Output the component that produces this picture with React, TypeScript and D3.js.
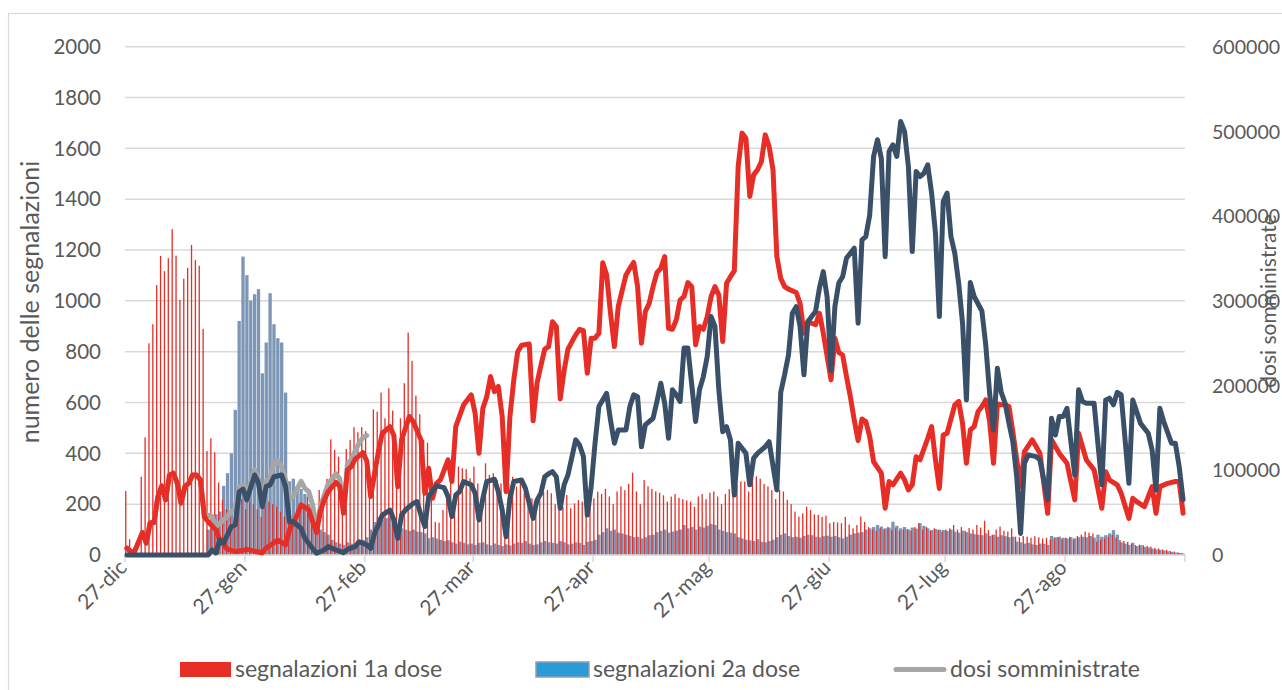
import React from "react";
import * as d3 from "d3";

// ---------- DATA ----------
const START = new Date(2020, 11, 27);
const TOTAL_DAYS = 274;

const tickLabels = ["27-dic", "27-gen", "27-feb", "27-mar", "27-apr", "27-mag", "27-giu", "27-lug", "27-ago"];
const tickDates = [
  new Date(2020, 11, 27), new Date(2021, 0, 27), new Date(2021, 1, 27), new Date(2021, 2, 27),
  new Date(2021, 3, 27), new Date(2021, 4, 27), new Date(2021, 5, 27), new Date(2021, 6, 27),
  new Date(2021, 7, 27), new Date(2021, 8, 27),
];
const leftTicks = [0, 200, 400, 600, 800, 1000, 1200, 1400, 1600, 1800, 2000];
const rightTicks = [0, 100000, 200000, 300000, 400000, 500000, 600000];

const legendLabels = ["segnalazioni 1a dose", "segnalazioni 2a dose", "dosi somministrate"];

// daily reports, 1st dose (left axis), one value per day from 27-dic
const segnalazioni1a: number[] = [
  252, 62, 5, 5, 308, 463, 833, 908, 1062, 1177, 1117, 1168, 1282, 1178, 1004, 1087, 1130, 1220, 1161, 1138, 890, 409, 459, 404, 285, 217,
  180, 150, 130, 200, 220, 180, 210, 200, 180, 150, 190, 210, 200, 190, 170, 150, 140, 120, 150, 170,
  200, 230, 180, 130, 256, 240, 300, 455, 413, 387, 177, 417, 453, 503, 483, 503, 487,
  250, 573, 564, 639, 538, 656, 568, 440, 538, 676,
  875, 764, 627, 554, 453, 442, 276, 130, 127, 177,
  256, 335, 230, 348, 341, 338, 302, 348, 282, 223,
  361, 315, 322, 295, 282, 151, 282, 308, 269, 295,
  243, 230, 223, 216, 243, 249, 256, 243, 200, 223,
  190, 236, 184, 203, 216, 210, 177, 203, 223, 249,
  240, 260, 230, 200, 250, 270, 255, 280, 324, 250,
  200, 295, 270, 260, 250, 245, 235, 210, 230, 240,
  225, 220, 215, 210, 190, 230, 240, 220, 245, 250,
  230, 200, 240, 259, 260, 275, 290, 289, 250, 324,
  310, 300, 280, 270, 255, 220, 256, 250, 217, 200, 171,
  151, 164, 190, 177, 160, 158, 150, 155, 125, 130,
  128, 125, 150, 120, 105, 118, 151, 130, 110, 100,
  95, 105, 100, 110, 98, 105, 95, 100, 102, 96,
  110, 125, 100, 110, 95, 105, 98, 92, 100, 105,
  118, 100, 110, 95, 106, 100, 118, 108, 135, 98,
  79, 100, 112, 95, 92, 105, 72, 70, 75, 72,
  68, 74, 70, 65, 68, 60, 65, 70, 62, 68,
  72, 60, 75, 80, 92, 88, 85, 52, 60, 65,
  72, 79, 68, 59, 55, 52, 45, 39, 40, 39,
  36, 33, 28, 26, 22, 20, 16, 14, 10, 8,
];

// daily reports, 2nd dose (left axis)
const segnalazioni2a: number[] = [
  0, 0, 0, 0, 0, 0, 0, 0, 0, 0, 0, 0, 0, 0, 0, 0, 0, 0, 0, 0, 0,
  100, 130, 160, 171, 272, 322, 400, 571, 921, 1174, 1101, 1001, 1026, 1046, 715, 836, 1030, 908, 853, 836, 639,
  290, 300, 270, 260, 240, 200, 150, 110, 100, 90, 80, 60, 50, 45, 40, 50, 45, 40, 45, 60, 70,
  100, 130, 150, 140, 145, 150, 110, 90,
  105, 100, 95, 100, 92, 90, 85,
  66, 70, 65, 60, 55, 58, 50, 45, 53, 48, 42,
  45, 40, 48, 50, 42, 38, 45, 40, 35, 42, 38, 45,
  50, 48, 55, 45, 40, 42, 50, 55, 50, 48, 45, 55, 50, 42, 45, 50, 48, 40, 52, 55, 60,
  80, 90, 105, 95, 100, 88, 85,
  80, 75, 70, 72, 65, 70, 78, 80,
  90, 95, 100, 88, 92, 96, 100, 118,
  105, 110, 100, 112, 108, 115, 122, 118,
  100, 95, 90, 88, 85,
  70, 65, 60, 58, 55, 62, 52, 50, 55,
  60, 70, 80, 85, 75, 70, 72, 68,
  75, 80, 78, 72, 70, 74, 76, 72, 75, 70, 65, 72, 80, 85, 88, 90,
  100, 105, 110, 118, 112, 105, 108, 131, 115, 105, 110, 100, 108, 104, 125, 115, 105, 98, 102, 100,
  98, 95, 100, 92, 88, 96, 90, 85, 82, 80, 78, 85, 75, 80, 72, 78, 74, 70, 72,
  53, 50, 45, 48, 42, 40, 45, 44, 40,
  75, 70, 72, 68, 65, 70, 66, 70, 72,
  70, 75, 68, 80, 72, 78, 85, 98, 80,
  50, 45, 40, 48, 35, 38, 32, 30,
  25, 22, 20, 18, 15, 12, 10, 8, 5,
];

// doses administered, 1st dose (right axis): [day index, doses]
const dosi1aDose: [number, number][] = [
  [0, 8100], [1, 3900], [2, 4500], [4, 26400], [5, 14100], [6, 38100], [7, 38100], [8, 69000], [9, 81600], [10, 65100],
  [11, 94500], [12, 96600], [13, 84900], [14, 61200], [15, 81000], [16, 84900], [17, 94500], [18, 94500], [19, 88500], [20, 45300],
  [21, 39300], [23, 29400], [24, 17700], [26, 6600], [28, 4200], [30, 5400], [31, 6600], [33, 4500], [35, 2700], [36, 8100],
  [38, 14400], [39, 17700], [41, 12000], [42, 29400], [44, 47100], [45, 59100], [47, 53400], [48, 39300], [49, 26400], [50, 51300],
  [51, 65100], [52, 74700], [54, 85800], [55, 81000], [56, 49200], [57, 100500], [58, 104400], [59, 113100], [61, 120900], [62, 111000],
  [63, 69000], [65, 122100], [66, 143700], [68, 151500], [69, 141000], [70, 80700], [71, 135900], [72, 149700], [73, 163500], [74, 157500],
  [76, 135900], [77, 72900], [78, 102300], [79, 66900], [80, 84600], [81, 88500], [83, 112200], [84, 86700], [85, 151500], [87, 177000],
  [89, 189000], [90, 167400], [91, 120000], [92, 173100], [93, 186900], [94, 210600], [95, 192900], [96, 198900], [97, 163500], [98, 74700],
  [99, 163500], [100, 206700], [101, 240000], [102, 247500], [104, 249000], [105, 158400], [106, 202800], [107, 223500], [108, 243000], [109, 246000],
  [110, 275400], [111, 269700], [112, 184200], [113, 217500], [114, 243000], [116, 259800], [117, 266400], [118, 264900], [119, 214500], [120, 255900],
  [121, 255900], [122, 261900], [123, 345000], [124, 330600], [125, 285300], [126, 246000], [127, 293100], [129, 330600], [130, 338400], [131, 345300],
  [132, 316800], [133, 249900], [134, 287400], [135, 297000], [136, 316800], [137, 333300], [138, 338400], [139, 352200], [140, 267600], [141, 266400],
  [142, 277500], [143, 301200], [144, 305100], [145, 321600], [146, 316800], [147, 248100], [148, 269700], [149, 266400], [150, 281400], [151, 305100],
  [152, 316800], [153, 306900], [154, 252000], [155, 320700], [156, 328500], [157, 335400], [158, 458700], [159, 498000], [160, 492000], [161, 423300],
  [162, 448800], [163, 454800], [164, 464400], [165, 495900], [166, 482100], [167, 454800], [168, 352200], [169, 326700], [170, 316800], [171, 313800],
  [173, 309900], [174, 297000], [175, 261900], [176, 275400], [177, 273600], [178, 271800], [179, 285300], [180, 261900], [182, 206700], [183, 255900],
  [184, 239100], [185, 236100], [186, 210600], [187, 186900], [188, 159300], [189, 135000], [190, 160500], [191, 157500], [192, 139800], [193, 110100],
  [195, 96600], [196, 55200], [197, 86700], [198, 82800], [200, 96600], [201, 88800], [202, 76800], [203, 82800], [204, 116100], [205, 112200],
  [207, 137700], [208, 151500], [209, 112200], [210, 78600], [211, 141600], [212, 143700], [214, 177300], [215, 181200], [216, 155400], [217, 108300],
  [218, 147600], [219, 151500], [220, 169200], [221, 175200], [222, 183000], [223, 157500], [224, 108300], [225, 178200], [226, 177300], [227, 177300],
  [228, 175200], [229, 145500], [231, 80700], [232, 122100], [234, 135900], [236, 120000], [238, 49200], [239, 135900], [241, 120000], [243, 108300],
  [245, 65100], [246, 143700], [248, 112200], [250, 100500], [252, 55200], [253, 98400], [254, 88500], [256, 82800], [257, 72900], [259, 43200],
  [260, 66900], [261, 63000], [263, 57000], [264, 69000], [265, 80700], [266, 49200], [267, 80700], [269, 84600], [271, 86700], [272, 86700],
  [273, 49200],
];

// doses administered, 2nd dose (right axis)
const dosi2aDose: [number, number][] = [
  [0, 0], [21, 0], [22, 6000], [23, 2400], [24, 17700], [25, 14100], [27, 33600], [28, 35400], [29, 74700], [30, 77700],
  [31, 65100], [33, 94500], [34, 84900], [35, 57000], [36, 81000], [37, 82800], [38, 92400], [40, 94500], [41, 81000], [42, 39300],
  [43, 39300], [45, 31500], [46, 19800], [48, 7800], [49, 2100], [51, 6000], [52, 9900], [54, 6000], [56, 2700], [57, 6600],
  [59, 9900], [60, 15600], [62, 12000], [63, 7800], [64, 25500], [65, 35400], [66, 47100], [68, 53100], [69, 41400], [70, 19800],
  [71, 47100], [72, 53100], [74, 60900], [75, 63000], [76, 47100], [77, 33600], [78, 69000], [80, 81600], [82, 79500], [83, 69000],
  [84, 45300], [85, 70800], [86, 74700], [87, 86700], [89, 82800], [90, 72900], [91, 41400], [92, 66900], [93, 86700], [95, 89400],
  [96, 74700], [97, 53100], [98, 21600], [99, 66900], [100, 86700], [102, 88500], [103, 78600], [104, 60900], [105, 43200], [106, 64800],
  [107, 72900], [108, 92400], [109, 96000], [110, 98400], [111, 92400], [112, 55200], [113, 82800], [114, 94500], [116, 135900], [117, 129900],
  [118, 116100], [119, 47100], [120, 80700], [121, 132000], [122, 175200], [124, 190800], [125, 159300], [126, 132000], [127, 147600], [129, 147600],
  [130, 175200], [131, 189000], [132, 186900], [133, 127800], [134, 153600], [136, 161400], [137, 181200], [138, 202800], [139, 179100], [140, 137700],
  [141, 195000], [142, 189000], [143, 181200], [144, 244200], [145, 244200], [147, 157500], [148, 195000], [149, 210600], [150, 234300], [151, 281400],
  [152, 269700], [153, 195000], [154, 145500], [155, 151500], [156, 135900], [157, 70800], [158, 132000], [160, 120000], [161, 82800], [162, 114300],
  [163, 120000], [165, 127800], [166, 133800], [168, 76800], [169, 192000], [170, 212700], [171, 236100], [172, 285300], [173, 293100], [174, 269700],
  [175, 212700], [176, 275400], [177, 281400], [178, 287400], [179, 315000], [180, 334500], [181, 304500], [182, 217500], [183, 293100], [184, 321000],
  [185, 328500], [186, 350400], [188, 362100], [189, 273600], [190, 372000], [191, 375900], [192, 401400], [193, 470400], [194, 490200], [195, 468300],
  [196, 352200], [197, 476400], [198, 484200], [199, 470400], [200, 511800], [201, 500100], [202, 458700], [203, 358200], [204, 452700], [205, 446700],
  [206, 450600], [207, 460500], [208, 427200], [209, 379800], [210, 281400], [211, 417300], [212, 427200], [213, 375900], [214, 356100], [215, 320700],
  [216, 273600], [217, 183000], [218, 321600], [219, 305100], [221, 288000], [222, 247800], [223, 190800], [224, 147600], [225, 220500], [226, 192000],
  [227, 179100], [228, 155400], [229, 133800], [230, 92400], [231, 25500], [232, 108300], [233, 118200], [235, 116100], [236, 112200], [238, 65100],
  [239, 161400], [240, 141600], [241, 163500], [242, 163500], [243, 173100], [245, 94500], [246, 195000], [247, 181200], [248, 179100], [250, 179100],
  [252, 82800], [253, 183000], [254, 185100], [255, 177300], [256, 192000], [257, 189000], [259, 84600], [260, 183000], [261, 169200], [262, 155400],
  [264, 143700], [265, 123900], [266, 76800], [267, 173100], [268, 157500], [270, 132000], [271, 132000], [272, 104400], [273, 65100],
];

// total doses administered (right axis), only up to late February
const dosiTotali: [number, number][] = [
  [0, 8100], [1, 3900], [2, 4500], [4, 26400], [5, 14100], [6, 38100], [7, 38100], [8, 69000], [9, 81600], [10, 65100],
  [11, 94500], [12, 96600], [13, 84900], [14, 61200], [15, 81000], [16, 84900], [17, 94500], [18, 94500], [19, 88500], [20, 48000],
  [21, 47100], [22, 45300], [23, 33000], [24, 37500], [25, 41400], [27, 51000], [28, 55500], [29, 79500], [30, 82800], [31, 72000],
  [33, 100500], [34, 90000], [35, 69000], [36, 87600], [37, 90000], [38, 110100], [39, 111000], [40, 104400], [41, 88500], [42, 65100],
  [43, 69600], [44, 78000], [45, 87000], [46, 78600], [47, 74700], [48, 59100], [49, 30000], [50, 57000], [51, 70500], [52, 84000],
  [54, 96000], [55, 90000], [56, 52500], [57, 108000], [58, 112500], [59, 123000], [60, 132000], [61, 138600], [62, 141000],
];

// ---------- STYLE ----------
const C_RED = "#e62e27";
const C_BLUE_BAR = "#7d96b5";
const C_NAVY = "#3a5069";
const C_GRAY = "#a6a6a6";
const C_GRID = "#d9d9d9";
const C_TEXT = "#595959";
const FONT = "Lato, 'Open Sans', sans-serif";

export default function App() {
  const W = 1282, H = 690;
  const left = 125, right = 1185, top = 46.7, bottom = 555;

  const endDate = d3.timeDay.offset(START, TOTAL_DAYS);
  const x = d3.scaleTime().domain([START, endDate]).range([left, right]);
  const dayX = (d: number) => x(d3.timeDay.offset(START, d)) as number;
  const dayW = (right - left) / TOTAL_DAYS;
  const yL = d3.scaleLinear().domain([0, 2000]).range([bottom, top]);
  const yR = d3.scaleLinear().domain([0, 600000]).range([bottom, top]);

  const line = d3
    .line<[number, number]>()
    .x((p) => dayX(p[0]) + dayW / 2)
    .y((p) => yR(p[1]));

  return (
    <svg width={W} height={H} style={{ position: "absolute", left: 0, top: 0, background: "#fff" }} fontFamily={FONT}>
      <rect x={8.5} y={13.5} width={1300} height={700} fill="#fff" stroke={C_GRID} strokeWidth={1.2} />
      {/* gridlines */}
      {leftTicks.slice(1).map((t) => (
        <line key={t} x1={left} x2={right} y1={yL(t)} y2={yL(t)} stroke={C_GRID} strokeWidth={1.5} />
      ))}
      {/* bars: 2nd dose */}
      {segnalazioni2a.map((v, i) =>
        v > 0 ? (
          <rect key={"b" + i} x={dayX(i) + 0.3} width={dayW - 0.55} y={yL(v)} height={bottom - yL(v)} fill={C_BLUE_BAR} />
        ) : null
      )}
      {/* bars: 1st dose */}
      {segnalazioni1a.map((v, i) => (
        <rect key={"r" + i} x={dayX(i) + 0.1} width={1.3} y={yL(v)} height={bottom - yL(v)} fill={C_RED} />
      ))}
      {/* x axis */}
      <line x1={left} x2={right} y1={bottom} y2={bottom} stroke={C_GRID} strokeWidth={1.5} />
      {tickDates.map((d, i) => (
        <line key={"t" + i} x1={x(d)} x2={x(d)} y1={bottom} y2={bottom + 7} stroke={C_GRID} strokeWidth={1.5} />
      ))}
      {/* lines */}
      <path d={line(dosiTotali) || ""} fill="none" stroke={C_GRAY} strokeWidth={5} strokeLinejoin="round" strokeLinecap="round" />
      <path d={line(dosi1aDose) || ""} fill="none" stroke={C_RED} strokeWidth={5} strokeLinejoin="round" strokeLinecap="round" />
      <path d={line(dosi2aDose) || ""} fill="none" stroke={C_NAVY} strokeWidth={5} strokeLinejoin="round" strokeLinecap="round" />
      {/* left ticks */}
      {leftTicks.map((t) => (
        <text key={"l" + t} x={101} y={yL(t) + 7.3} textAnchor="end" fontSize={20.5} fill={C_TEXT}>
          {t}
        </text>
      ))}
      {/* right ticks */}
      {rightTicks.map((t) => (
        <text key={"rt" + t} x={1212} y={yR(t) + 7.2} textAnchor="start" fontSize={19.6} fill={C_TEXT}>
          {t}
        </text>
      ))}
      {/* x labels */}
      {tickLabels.map((s, i) => {
        const tx = x(tickDates[i]) as number;
        return (
          <text key={s} transform={`translate(${tx + 3},${bottom + 14}) rotate(-45)`} textAnchor="end" fontSize={21} fill={C_TEXT}>
            {s}
          </text>
        );
      })}
      {/* axis titles */}
      <text transform={`translate(39,302) rotate(-90)`} textAnchor="middle" fontSize={25} fill={C_TEXT}>
        numero delle segnalazioni
      </text>
      <text transform={`translate(1276,301) rotate(-90)`} textAnchor="middle" fontSize={21} fill={C_TEXT}>
        dosi somministrate
      </text>
      {/* legend */}
      <rect x={180} y={662} width={51} height={15} fill={C_RED} />
      <text x={235} y={677} fontSize={23} fill={C_TEXT}>{legendLabels[0]}</text>
      <rect x={536} y={662} width={53} height={15} fill="#2b9bd8" stroke="#8aa0b8" strokeWidth={1.5} />
      <text x={593} y={677} fontSize={23} fill={C_TEXT}>{legendLabels[1]}</text>
      <line x1={896} x2={944} y1={669.5} y2={669.5} stroke={C_GRAY} strokeWidth={5} strokeLinecap="round" />
      <text x={950} y={677} fontSize={23} fill={C_TEXT}>{legendLabels[2]}</text>
    </svg>
  );
}
